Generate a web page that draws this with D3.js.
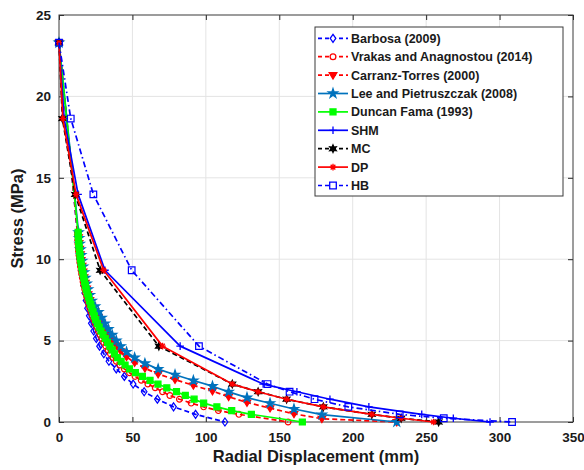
<!DOCTYPE html>
<html>
<head>
<meta charset="utf-8">
<script src="https://cdn.jsdelivr.net/npm/d3@7"></script>
<style>
  html, body { margin: 0; padding: 0; background: #fff; }
  svg { display: block; font-family: "Liberation Sans", Arial, sans-serif; }
</style>
</head>
<body>
<svg id="chart" width="584" height="470"></svg>
<script>
// ---- Tick values ----
const xTicks = [0, 50, 100, 150, 200, 250, 300, 350];
const yTicks = [0, 5, 10, 15, 20, 25];

// ---- Analytical solutions: radial displacement (mm) vs support stress (MPa) ----
const barbosaX = [0, 12.5, 13.0, 13.5, 14.0, 14.6, 15.2, 15.9, 16.7, 17.5, 18.4, 19.4, 20.6, 22.0, 23.6, 25.4, 27.6, 30.5, 34.0, 39.0, 44.5, 50.5, 58.0, 67.0, 78.0, 93.0, 113.0];
const barbosaY = [23.3, 11.65, 11.18, 10.72, 10.25, 9.79, 9.32, 8.86, 8.39, 7.92, 7.46, 6.99, 6.52, 6.06, 5.59, 5.13, 4.66, 4.19, 3.73, 3.26, 2.80, 2.33, 1.86, 1.40, 0.93, 0.47, 0];

const fineStress = [23.3, 11.65, 11.42, 11.18, 10.95, 10.72, 10.49, 10.25, 10.02, 9.79, 9.55, 9.32, 9.09, 8.86, 8.62, 8.39, 8.16, 7.92, 7.69, 7.46, 7.22, 6.99, 6.76, 6.52, 6.29, 6.06, 5.83, 5.59, 5.36, 5.13, 4.89, 4.66, 4.43, 4.19, 3.96, 3.73, 3.50, 3.26, 3.03, 2.80, 2.56, 2.33, 2.10, 1.86, 1.63, 1.40, 1.16, 0.93, 0.70, 0.47, 0];

const vrakasX = [0, 12.6, 12.7, 12.8, 12.9, 13.1, 13.3, 13.6, 13.9, 14.2, 14.6, 15.0, 15.4, 15.9, 16.4, 16.9, 17.5, 18.1, 18.8, 19.5, 20.2, 21.0, 21.8, 22.7, 23.6, 24.6, 25.7, 26.8, 28.0, 29.2, 30.5, 31.9, 33.4, 35.0, 36.8, 39.0, 41.5, 44.5, 48.0, 51.8, 56.0, 60.5, 65.5, 70.5, 75.5, 82.0, 90.0, 98.5, 108.5, 122.5, 156.0];
const vrakasY = fineStress;

const carranzaX = [0, 13.3, 13.7, 14.1, 14.6, 15.1, 15.7, 16.4, 17.1, 17.9, 18.8, 19.8, 21.0, 22.3, 24.5, 26.8, 29.0, 31.2, 33.6, 36.2, 39.0, 42.0, 46.0, 51.5, 58.5, 67.5, 79.0, 91.5, 104.5, 115.5, 128.0, 143.7, 160.0, 179.0, 230.0];
const carranzaY = [23.3, 11.35, 11.00, 10.65, 10.30, 9.95, 9.60, 9.25, 8.90, 8.55, 8.20, 7.85, 7.50, 7.15, 6.80, 6.45, 6.10, 5.75, 5.40, 5.05, 4.70, 4.35, 4.00, 3.65, 3.30, 2.95, 2.60, 2.25, 1.90, 1.55, 1.20, 0.85, 0.50, 0.20, 0];

const leeX = [0, 13.3, 13.7, 14.1, 14.6, 15.1, 15.7, 16.4, 17.1, 17.9, 18.8, 19.8, 21.0, 22.3, 24.5, 26.8, 29.0, 31.2, 33.6, 36.2, 39.0, 42.0, 46.0, 51.5, 58.5, 67.5, 79.0, 91.5, 104.5, 115.5, 128.0, 143.7, 160.0, 179.0, 230.0];
const leeY = [23.3, 11.65, 11.30, 10.95, 10.60, 10.25, 9.90, 9.55, 9.20, 8.85, 8.50, 8.15, 7.80, 7.45, 7.10, 6.75, 6.40, 6.05, 5.70, 5.35, 5.00, 4.65, 4.30, 3.95, 3.60, 3.25, 2.90, 2.55, 2.20, 1.85, 1.50, 1.15, 0.80, 0.45, 0];

const duncanX = [0, 13.0, 13.1, 13.3, 13.5, 13.7, 14.0, 14.3, 14.6, 15.0, 15.4, 15.9, 16.4, 16.9, 17.4, 17.9, 18.5, 19.2, 20.0, 20.8, 21.6, 22.4, 23.2, 24.1, 25.0, 26.1, 27.3, 28.6, 30.0, 31.5, 33.0, 34.6, 36.2, 37.8, 39.8, 42.3, 45.0, 48.0, 52.0, 56.8, 62.0, 67.4, 73.4, 80.0, 86.0, 92.0, 98.5, 107.5, 117.6, 131.0, 165.7];
const duncanY = fineStress;

// ---- Numerical solutions ----
const stepStress = [23.3, 18.64, 13.98, 9.32, 4.66, 2.33, 1.86, 1.40, 0.93, 0.47, 0.23, 0];
const shmX = [0, 3.5, 13.0, 31.3, 82.5, 139.0, 162.0, 184.5, 211.0, 247.0, 268.5, 293.5];
const shmY = stepStress;
const mcX  = [0, 2.3, 11.0, 28.0, 68.0, 118.0, 135.6, 155.0, 180.0, 213.0, 233.0, 258.5];
const mcY  = stepStress;
const dpX  = [0, 2.6, 11.6, 30.4, 70.5, 118.0, 135.5, 155.0, 180.0, 213.0, 233.0, 255.0];
const dpY  = stepStress;
const hbX  = [0, 8.0, 23.4, 49.5, 95.3, 142.0, 157.0, 174.0, 197.0, 232.0, 262.0, 308.5];
const hbY  = stepStress;

const seriesNames = [
  "Barbosa (2009)", "Vrakas and Anagnostou (2014)", "Carranz-Torres (2000)",
  "Lee and Pietruszczak (2008)", "Duncan Fama (1993)", "SHM", "MC", "DP", "HB"
];

// ---- Layout ----
const svg = d3.select("#chart");
const x = d3.scaleLinear().domain([0, 350]).range([59, 573]);
const y = d3.scaleLinear().domain([0, 25]).range([422, 15]);
const axisColor = "#262626";

// Marker shapes (path strings centred on 0,0)
function markerPath(kind) {
  switch (kind) {
    case "diamond": { const r = 4.0, w = 2.8; return `M0,${-r}L${w},0L0,${r}L${-w},0Z`; }
    case "circle":  return d3.symbol(d3.symbolCircle, 26)();
    case "tridown": { const r = 3.8; return `M${-r},${-r*0.62}L${r},${-r*0.62}L0,${r}Z`; }
    case "star":    return d3.symbol(d3.symbolStar, 26)();
    case "square":  { const h = 3; return `M${-h},${-h}H${h}V${h}H${-h}Z`; }
    case "plus":    { const r = 3.8; return `M${-r},0H${r}M0,${-r}V${r}`; }
    case "asterisk":{ const r = 3.3, d = r * 0.7071; return `M${-r},0H${r}M0,${-r}V${r}M${-d},${-d}L${d},${d}M${-d},${d}L${d},${-d}`; }
    case "hexagram": {
      const pts = [];
      for (let i = 0; i < 12; i++) {
        const a = -Math.PI / 2 + i * Math.PI / 6;
        const rr = i % 2 === 0 ? 3.8 : 1.9;
        pts.push([rr * Math.cos(a), rr * Math.sin(a)]);
      }
      return "M" + pts.map(p => p[0].toFixed(2) + "," + p[1].toFixed(2)).join("L") + "Z";
    }
    case "hbsquare": { const h = 3.3; return `M${-h},${-h}H${h}V${h}H${-h}Z`; }
  }
}

const series = [
  { name: seriesNames[0], xs: barbosaX,  ys: barbosaY,  color: "#0000ff", dash: "5,3",       marker: "diamond",  fill: "none" },
  { name: seriesNames[1], xs: vrakasX,   ys: vrakasY,   color: "#ff0000", dash: "5,3",       marker: "circle",   fill: "none" },
  { name: seriesNames[2], xs: carranzaX, ys: carranzaY, color: "#ff0000", dash: "5,3",       marker: "tridown",  fill: "#ff0000" },
  { name: seriesNames[3], xs: leeX,      ys: leeY,      color: "#0072bd", dash: null,        marker: "star",     fill: "#0072bd" },
  { name: seriesNames[4], xs: duncanX,   ys: duncanY,   color: "#00ff00", dash: null,        marker: "square",   fill: "#00ff00" },
  { name: seriesNames[5], xs: shmX,      ys: shmY,      color: "#0000ff", dash: null,        marker: "plus",     fill: "none" },
  { name: seriesNames[6], xs: mcX,       ys: mcY,       color: "#000000", dash: "5,3",       marker: "hexagram", fill: "#000000" },
  { name: seriesNames[7], xs: dpX,       ys: dpY,       color: "#ff0000", dash: null,        marker: "asterisk", fill: "none" },
  { name: seriesNames[8], xs: hbX,       ys: hbY,       color: "#0000ff", dash: "6,3,1.5,3", marker: "hbsquare", fill: "none" }
];

// ---- Grid ----
const grid = svg.append("g").attr("class", "grid");
grid.selectAll("line.vx").data(xTicks.slice(1, -1)).join("line")
  .attr("x1", d => x(d)).attr("x2", d => x(d))
  .attr("y1", y(0)).attr("y2", y(25))
  .attr("stroke", "#e4e4e4").attr("stroke-width", 1);
grid.selectAll("line.hy").data(yTicks.slice(1, -1)).join("line")
  .attr("x1", x(0)).attr("x2", x(350))
  .attr("y1", d => y(d)).attr("y2", d => y(d))
  .attr("stroke", "#e4e4e4").attr("stroke-width", 1);

// ---- Axes (ticks point inward) ----
function styleAxis(g, showText) {
  g.select(".domain").remove();
  g.selectAll(".tick line").attr("stroke", axisColor).attr("stroke-width", 1);
  g.selectAll(".tick text")
    .attr("fill", "#1a1a1a").attr("font-size", 13.5).attr("font-weight", "bold")
    .style("display", showText ? null : "none");
}
svg.append("g").attr("transform", `translate(0,${y(0)})`)
  .call(d3.axisBottom(x).tickValues(xTicks).tickSize(-5).tickPadding(10).tickFormat(d3.format("d")))
  .call(g => styleAxis(g, true));
svg.append("g").attr("transform", `translate(0,${y(25)})`)
  .call(d3.axisTop(x).tickValues(xTicks).tickSize(-5))
  .call(g => styleAxis(g, false));
svg.append("g").attr("transform", `translate(${x(0)},0)`)
  .call(d3.axisLeft(y).tickValues(yTicks).tickSize(-5).tickPadding(8).tickFormat(d3.format("d")))
  .call(g => styleAxis(g, true));
svg.append("g").attr("transform", `translate(${x(350)},0)`)
  .call(d3.axisRight(y).tickValues(yTicks).tickSize(-5))
  .call(g => styleAxis(g, false));

// Axes box
svg.append("rect")
  .attr("x", x(0)).attr("y", y(25))
  .attr("width", x(350) - x(0)).attr("height", y(0) - y(25))
  .attr("fill", "none").attr("stroke", "#3a3a3a").attr("stroke-width", 1);

// ---- Curves ----
const line = d3.line().x(d => x(d[0])).y(d => y(d[1]));
const plot = svg.append("g").attr("class", "curves");
series.forEach(s => {
  const pts = s.xs.map((v, i) => [v, s.ys[i]]);
  const g = plot.append("g");
  g.append("path").datum(pts)
    .attr("d", line)
    .attr("fill", "none")
    .attr("stroke", s.color)
    .attr("stroke-width", 1.7)
    .attr("stroke-dasharray", s.dash)
    .attr("stroke-linejoin", "round");
  g.selectAll("path.mk").data(pts).join("path")
    .attr("class", "mk")
    .attr("transform", d => `translate(${x(d[0])},${y(d[1])})`)
    .attr("d", markerPath(s.marker))
    .attr("fill", s.fill)
    .attr("stroke", s.color)
    .attr("stroke-width", s.marker === "plus" || s.marker === "asterisk" ? 1.3 : 1.2);
});

// ---- Axis titles ----
svg.append("text")
  .attr("x", (x(0) + x(350)) / 2).attr("y", 462)
  .attr("text-anchor", "middle")
  .attr("font-size", 16.5).attr("font-weight", "bold").attr("fill", "#1a1a1a")
  .text("Radial Displacement (mm)");
svg.append("text")
  .attr("transform", `translate(23,${(y(0) + y(25)) / 2}) rotate(-90)`)
  .attr("text-anchor", "middle")
  .attr("font-size", 16.5).attr("font-weight", "bold").attr("fill", "#1a1a1a")
  .text("Stress (MPa)");

// ---- Legend ----
const legend = svg.append("g").attr("class", "legend");
legend.append("rect")
  .attr("x", 315).attr("y", 27).attr("width", 248).attr("height", 169)
  .attr("fill", "#fff").attr("stroke", "#3a3a3a").attr("stroke-width", 1);
series.forEach((s, i) => {
  const cy = 38.3 + i * 18.4;
  const row = legend.append("g");
  row.append("line")
    .attr("x1", 318).attr("x2", 348).attr("y1", cy).attr("y2", cy)
    .attr("stroke", s.color).attr("stroke-width", 1.7)
    .attr("stroke-dasharray", s.dash ? "4,3" : null);
  row.append("path")
    .attr("transform", `translate(333,${cy})`)
    .attr("d", markerPath(s.marker))
    .attr("fill", s.fill === "none" ? "#fff" : s.fill)
    .attr("stroke", s.color).attr("stroke-width", 1.3);
  row.append("text")
    .attr("x", 351).attr("y", cy).attr("dy", "0.36em")
    .attr("font-size", 12.5).attr("font-weight", "bold").attr("fill", "#1a1a1a")
    .text(s.name);
});
</script>
</body>
</html>
